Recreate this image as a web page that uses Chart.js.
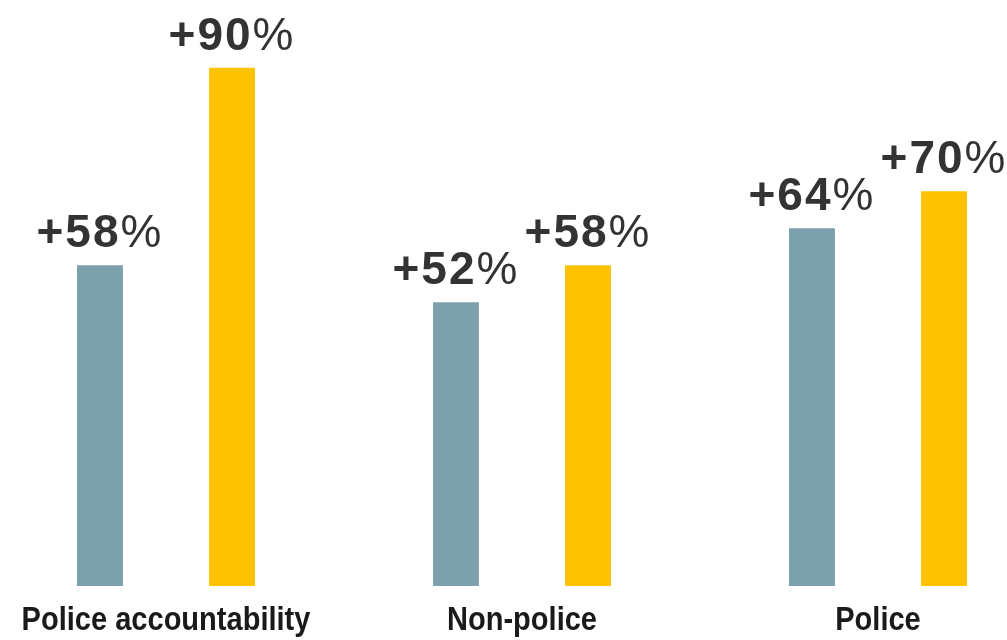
<!DOCTYPE html>
<html>
<head>
<meta charset="utf-8">
<script src="https://cdn.jsdelivr.net/npm/chart.js@4"></script>
<style>
  html, body { margin: 0; padding: 0; background: #fff; overflow: hidden; }
  #wrap { position: absolute; left: -12px; top: 0; width: 1068px; height: 640px; }
</style>
</head>
<body>
<div id="wrap"><canvas id="chart"></canvas></div>
<script>
// ============================================================
//  GROUPED BARS: two series per category
// ============================================================
const categories = ['Police accountability', 'Non-police', 'Police'];
const seriesA    = [58, 52, 64];
const seriesB    = [90, 58, 70];

const COLORS = {
    a    : '#7da0ad',
    b    : '#fdc300',
    text : '#333333',
    axis : '#1a1a1a'
};

const VALUE_FONT = '46px "Liberation Sans", Arial, sans-serif';
const CAT_FONT   = 'bold 33px "Liberation Sans", Arial, sans-serif';

// value labels: bold "+NN" followed by a lighter "%"
const valueLabels = {
    id: 'valueLabels',
    afterDatasetsDraw(chart) {
        const ctx = chart.ctx;
        ctx.save();
        ctx.fillStyle = COLORS.text;
        ctx.textBaseline = 'alphabetic';
        ctx.textAlign = 'left';
        ctx.letterSpacing = '2px';
        chart.data.datasets.forEach(function (ds, di) {
            const meta = chart.getDatasetMeta(di);
            meta.data.forEach(function (bar, i) {
                const num = '+' + ds.data[i];
                ctx.font = 'bold ' + VALUE_FONT;
                const w1 = ctx.measureText(num).width;
                ctx.font = VALUE_FONT;
                const w2 = ctx.measureText('%').width;
                const x0 = bar.x - (w1 + w2) / 2;
                const y  = bar.y - 18;
                ctx.font = 'bold ' + VALUE_FONT;
                ctx.fillText(num, x0, y);
                ctx.font = VALUE_FONT;
                ctx.fillText('%', x0 + w1, y);
            });
        });
        ctx.restore();
    }
};

// category names under each group, in a narrowed bold face
const categoryLabels = {
    id: 'categoryLabels',
    afterDraw(chart) {
        const ctx = chart.ctx;
        const xs  = chart.scales.x;
        ctx.save();
        ctx.fillStyle = COLORS.axis;
        ctx.font = CAT_FONT;
        ctx.textAlign = 'center';
        ctx.textBaseline = 'alphabetic';
        chart.data.labels.forEach(function (lbl, i) {
            ctx.save();
            ctx.translate(xs.getPixelForValue(i), chart.chartArea.bottom + 44);
            ctx.scale(0.88, 1);
            ctx.fillText(lbl, 0, 0);
            ctx.restore();
        });
        ctx.restore();
    }
};

new Chart(document.getElementById('chart'), {
    type: 'bar',
    data: {
        labels: categories,
        datasets: [
            { data: seriesA, backgroundColor: COLORS.a, categoryPercentage: 0.742, barPercentage: 0.348 },
            { data: seriesB, backgroundColor: COLORS.b, categoryPercentage: 0.742, barPercentage: 0.348 }
        ]
    },
    options: {
        responsive: true, maintainAspectRatio: false, animation: false,
        layout: { padding: { top: 0, left: 0, right: 0, bottom: 54 } },
        plugins: { legend: { display: false }, tooltip: { enabled: false } },
        scales: {
            x: { display: false },
            y: { display: false, min: 6, max: 101 }
        }
    },
    plugins: [valueLabels, categoryLabels]
});
</script>
</body>
</html>
